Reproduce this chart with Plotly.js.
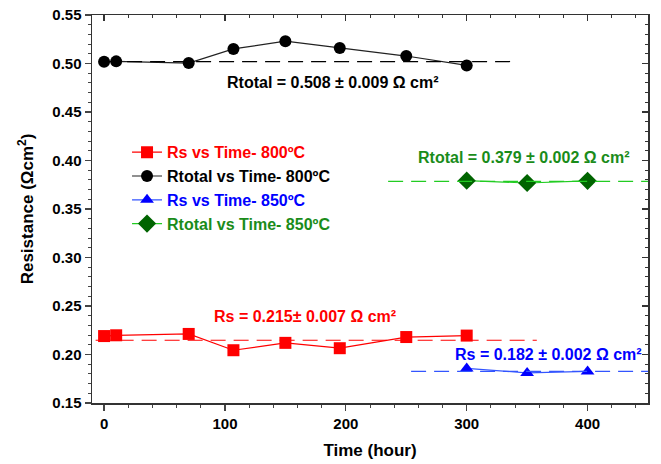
<!DOCTYPE html>
<html><head><meta charset="utf-8">
<script src="https://cdn.plot.ly/plotly-3.0.1.min.js"></script>
<style>body{margin:0;background:#fff}#chart{width:661px;height:464px}</style>
</head><body><div id="chart"></div>
<script>
// ---- data ----
const time800 = [0, 10, 70, 107, 150, 195, 250, 300];
const rs800 = [0.219, 0.2198, 0.2212, 0.2044, 0.212, 0.2065, 0.218, 0.2195];
const rtotal800 = [0.5018, 0.5022, 0.5004, 0.515, 0.523, 0.516, 0.5077, 0.498];
const time850 = [300, 350, 400];
const rs850 = [0.1856, 0.181, 0.1826];
const rtotal850 = [0.3792, 0.3768, 0.379];
// average reference lines
const rsAvg800X = [-7, 358], rsAvg800Y = [0.2147, 0.2147];
const rtAvg800X = [0, 338], rtAvg800Y = [0.502, 0.502];
const rsAvg850X = [254, 455], rsAvg850Y = [0.1826, 0.1826];
const rtAvg850X = [235, 455], rtAvg850Y = [0.3785, 0.3785];
const names = ['Rs vs Time- 800ºC', 'Rtotal vs Time- 800ºC', 'Rs vs Time- 850ºC', 'Rtotal vs Time- 850ºC'];
const labels = ['Rtotal = 0.508 ± 0.009 Ω cm²', 'Rtotal = 0.379 ± 0.002 Ω cm²', 'Rs = 0.215± 0.007 Ω cm²', 'Rs = 0.182 ± 0.002 Ω cm²'];
const xTicks = [0, 100, 200, 300, 400];
const yTicks = [0.15, 0.20, 0.25, 0.30, 0.35, 0.40, 0.45, 0.50, 0.55];

const F = 'Arial, "Liberation Sans", sans-serif';
const dash = '15px,8px';
const col = {red:'#ff0000', black:'#000000', blue:'#0000ff', blueLine:'#3355ff', green:'#006400', greenLine:'#22cc22', greenText:'#1a8c1a'};
function nm(t, c){ return '<span style="color:'+c+'">'+t+'</span>'; }

const traces = [
 {x: time800, y: rs800, mode:'lines+markers', name: nm(names[0], col.red),
  line:{color:col.red, width:1.2}, marker:{symbol:'square', size:12, color:col.red}},
 {x: time800, y: rtotal800, mode:'lines+markers', name: nm(names[1], col.black),
  line:{color:'#222', width:1.2}, marker:{symbol:'circle', size:12, color:col.black}},
 {x: time850, y: rs850, mode:'lines+markers', name: nm(names[2], col.blue),
  line:{color:col.blueLine, width:1.2}, marker:{symbol:'triangle-up', size:12, color:col.blue}},
 {x: time850, y: rtotal850, mode:'lines+markers', name: nm(names[3], col.greenText),
  line:{color:col.greenLine, width:1.2}, marker:{symbol:'diamond', size:14, color:col.green}},
 {x: rsAvg800X, y: rsAvg800Y, mode:'lines', showlegend:false, line:{color:col.red, width:1.2, dash:dash}},
 {x: rtAvg800X, y: rtAvg800Y, mode:'lines', showlegend:false, line:{color:'#000', width:1.2, dash:dash}},
 {x: rsAvg850X, y: rsAvg850Y, mode:'lines', showlegend:false, line:{color:col.blueLine, width:1.2, dash:dash}},
 {x: rtAvg850X, y: rtAvg850Y, mode:'lines', showlegend:false, line:{color:col.greenLine, width:1.2, dash:dash}},
 // empty trace so the mirrored (top/right) inward-tick axes are drawn
 {x: [], y: [], xaxis:'x2', yaxis:'y2', mode:'markers', showlegend:false, hoverinfo:'skip'}
];

const ann = (t, x, y, c) => ({text:t, x:x, y:y, xref:'x', yref:'y', showarrow:false,
  font:{family:F, size:16, color:c, weight:'bold'}});

const layout = {
  width:661, height:464,
  margin:{l:92, r:13, t:15, b:61},
  paper_bgcolor:'#fff', plot_bgcolor:'#fff',
  font:{family:F, color:'#000'},
  showlegend:true,
  legend:{x:0.063, y:0.69, xanchor:'left', yanchor:'top', bgcolor:'rgba(0,0,0,0)',
    font:{family:F, size:16, weight:'bold'}, tracegroupgap:0, itemwidth:30},
  xaxis:{range:[-10, 450], tickvals:xTicks, ticktext:xTicks.map(String), ticks:'outside', ticklen:6, tickwidth:1.2,
    showline:true, linecolor:'#333', linewidth:1.5, mirror:true, showgrid:false, zeroline:false,
    tickfont:{family:F, size:15, weight:'bold'},
    minor:{dtick:20, tick0:0, ticks:'outside', ticklen:3, tickwidth:1, showgrid:false},
    title:{text:'Time (hour)', font:{family:F, size:17, weight:'bold'}, standoff:13}},
  yaxis:{range:[0.15, 0.55], tickvals:yTicks, ticktext:yTicks.map(v=>v.toFixed(2)), ticks:'outside', ticklen:6, tickwidth:1.2,
    showline:true, linecolor:'#333', linewidth:1.5, mirror:true, showgrid:false, zeroline:false,
    tickfont:{family:F, size:15, weight:'bold'},
    minor:{dtick:0.01, tick0:0.15, ticks:'outside', ticklen:3, tickwidth:1, showgrid:false},
    title:{text:'Resistance (Ωcm<sup>2</sup>)', font:{family:F, size:17, weight:'bold'}, standoff:14}},
  xaxis2:{overlaying:'x', side:'top', anchor:'y2', range:[-10, 450], tickvals:xTicks, ticks:'inside', ticklen:6, tickwidth:1.2,
    tickcolor:'#333', showticklabels:false, showgrid:false, zeroline:false, showline:false,
    minor:{dtick:20, tick0:0, ticks:'inside', ticklen:3, tickwidth:1, showgrid:false}},
  yaxis2:{overlaying:'y', side:'right', anchor:'x2', range:[0.15, 0.55], tickvals:yTicks, ticks:'inside', ticklen:6, tickwidth:1.2,
    tickcolor:'#333', showticklabels:false, showgrid:false, zeroline:false, showline:false,
    minor:{dtick:0.01, tick0:0.15, ticks:'inside', ticklen:3, tickwidth:1, showgrid:false}},
  annotations:[
    ann(labels[0], 189, 0.480, '#000'),
    ann(labels[1], 347, 0.4026, col.greenText),
    ann(labels[2], 166, 0.2387, col.red),
    ann(labels[3], 368, 0.2005, col.blue)
  ]
};
Plotly.newPlot('chart', traces, layout, {staticPlot:true, displayModeBar:false});
</script></body></html>
